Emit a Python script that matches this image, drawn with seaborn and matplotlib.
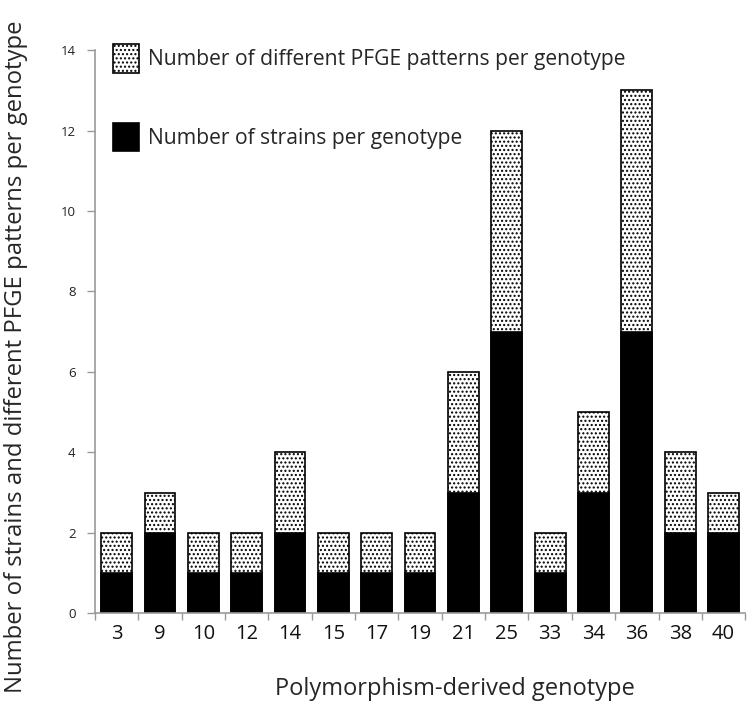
import numpy as np
import pandas as pd
import matplotlib
matplotlib.use("Agg")
import matplotlib.pyplot as plt
import matplotlib.ticker as mticker
from matplotlib.patches import Patch
import seaborn as sns

# ---------------- DATA ----------------

genotypes = ["3", "9", "10", "12", "14", "15", "17", "19", "21", "25", "33", "34", "36", "38", "40"]
strains = [1, 2, 1, 1, 2, 1, 1, 1, 3, 7, 1, 3, 7, 2, 2]
pfge_patterns = [1, 1, 1, 1, 2, 1, 1, 1, 3, 5, 1, 2, 6, 2, 1]

df = pd.DataFrame({"genotype": genotypes, "strains": strains, "patterns": pfge_patterns})
df["total"] = df["strains"] + df["patterns"]

# ---------------- STYLE ----------------

sns.set_style("white")
plt.rcParams["font.family"] = ["Open Sans", "DejaVu Sans"]
plt.rcParams["hatch.linewidth"] = 1.0

fig = plt.figure(figsize=(7.56, 7.08), dpi=100)
ax = fig.add_axes([0.1257, 0.134, 0.86, 0.795])

# dotted part on the bottom layer (full height), black strains on top
sns.barplot(data=df, x="genotype", y="total", order=genotypes, color="white",
            edgecolor="black", linewidth=1.2, width=0.71, hatch="....", ax=ax)
sns.barplot(data=df, x="genotype", y="strains", order=genotypes, color="black",
            edgecolor="black", linewidth=1.2, width=0.71, ax=ax)

ax.set_ylim(0, 14)
ax.set_xlim(-0.5, len(genotypes) - 0.5)
ax.yaxis.set_major_locator(mticker.MultipleLocator(2))

# excel-like ticks between categories
ax.xaxis.set_minor_locator(mticker.FixedLocator(np.arange(-0.5, len(genotypes), 1)))
ax.tick_params(axis="x", which="major", length=0, labelsize=14.5, pad=8, labelcolor="#111111")
ax.tick_params(axis="x", which="minor", length=5, width=1, color="#999999", direction="out", bottom=True)
ax.tick_params(axis="y", length=6, width=1, color="#999999", direction="out", left=True,
               labelsize=9.5, labelcolor="#222222", pad=8)

for side in ["top", "right"]:
    ax.spines[side].set_visible(False)
for side in ["left", "bottom"]:
    ax.spines[side].set_color("#999999")
    ax.spines[side].set_linewidth(1.2)

ax.set_xlabel("Polymorphism-derived genotype", fontsize=17)
ax.set_ylabel("Number of strains and different PFGE patterns per genotype", fontsize=17.2)
ax.xaxis.set_label_coords(0.554, -0.114)
ax.yaxis.set_label_coords(-0.103, 0.455)

# ---------------- LEGEND ----------------

handles = [
    Patch(facecolor="white", edgecolor="black", hatch="....", linewidth=1.2),
    Patch(facecolor="black", edgecolor="black", linewidth=1.2),
]
labels = ["Number of different PFGE patterns per genotype", "Number of strains per genotype"]
ax.legend(handles, labels, loc="upper left", bbox_to_anchor=(0.027, 1.011), frameon=False,
          fontsize=15.2, handlelength=1.24, handleheight=1.7, labelspacing=2.37,
          handletextpad=0.45, borderaxespad=0, borderpad=0)

fig.savefig("out.png", dpi=100)
